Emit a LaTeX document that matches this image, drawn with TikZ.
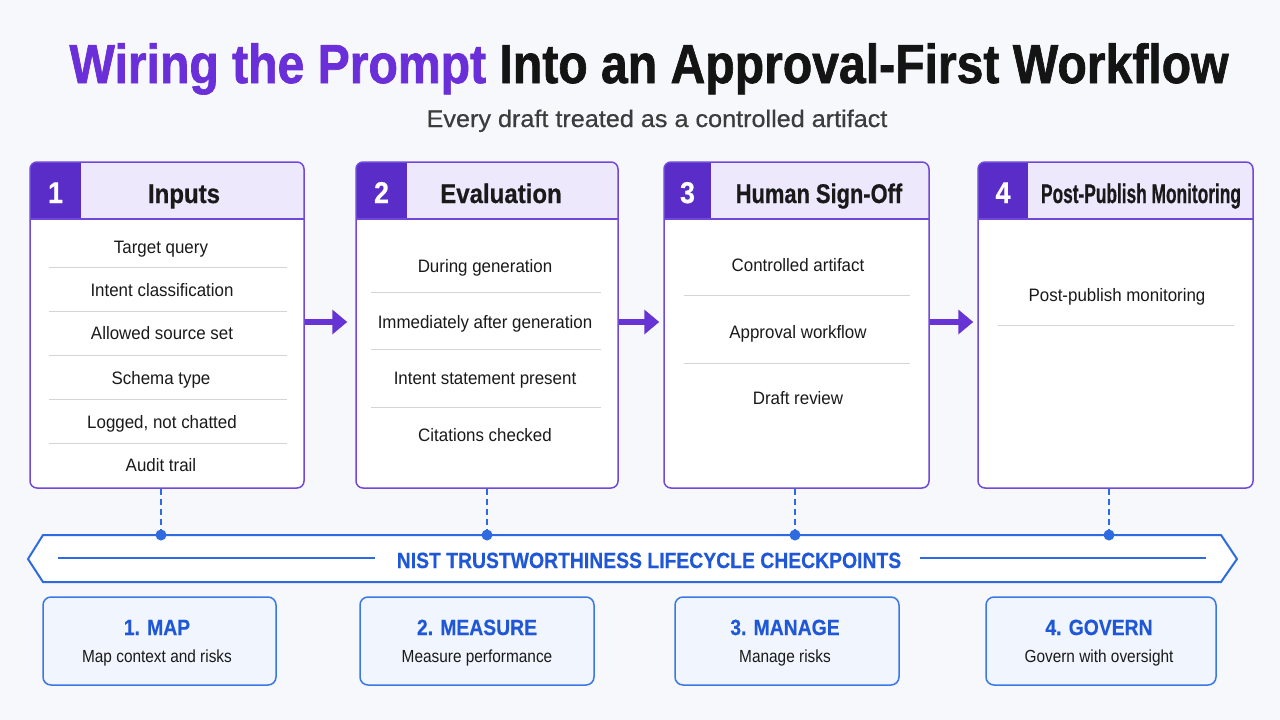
\documentclass[tikz,border=0pt]{standalone}
\usepackage{fontspec}
\setmainfont{Liberation Sans}
\newfontfamily\titlefont[FakeStretch=0.875,FakeBold=1.2]{Liberation Sans}
\newfontfamily\leadfont[FakeStretch=1.05,FakeBold=0.6]{Liberation Sans}
\newfontfamily\hdrfont[FakeStretch=0.89,FakeBold=0.6]{Liberation Sans}
\newfontfamily\bodyfont[FakeStretch=0.94]{Liberation Sans}
\newfontfamily\nistfont[FakeStretch=0.88,FakeBold=0.4]{Liberation Sans}
\newfontfamily\subfont[FakeStretch=0.88]{Liberation Sans}
\usetikzlibrary{arrows.meta,fit}
\definecolor{bg}{HTML}{F7F8FB}
\definecolor{ttlpurple}{HTML}{6A2FD8}
\definecolor{ttlblack}{HTML}{141414}
\definecolor{leadgray}{HTML}{3C3C3C}
\definecolor{cardline}{HTML}{7048DA}
\definecolor{hdrfill}{HTML}{EEE8FD}
\definecolor{numfill}{HTML}{5A2CC8}
\definecolor{txt}{HTML}{1A1A1A}
\definecolor{sepgray}{HTML}{D4D4D8}
\definecolor{arrowpurple}{HTML}{6633D4}
\definecolor{nistblue}{HTML}{1F57D6}
\definecolor{nistline}{HTML}{2F6BE0}
\definecolor{boxfill}{HTML}{F0F5FE}
\definecolor{boxline}{HTML}{3A78E6}
\tikzset{
  cardframe/.style={draw=cardline, line width=1.5pt, rounded corners=7pt, rectangle, inner sep=0pt},
  numtxt/.style={font=\hdrfont\bfseries\fontsize{30}{32}\selectfont, text=white, anchor=base},
  hdrtxt/.style={font=\hdrfont\bfseries\fontsize{27}{30}\selectfont, text=txt, anchor=base},
  item/.style={font=\bodyfont\fontsize{18}{20}\selectfont, text=txt, anchor=base},
  sepline/.style={draw=sepgray, line width=1pt},
  flow/.style={draw=arrowpurple, line width=6pt, -{Triangle[length=15pt,width=24pt]}},
  checkdash/.style={draw=nistline, line width=1.5pt, dash pattern=on 6pt off 4pt},
  dotnode/.style={circle, fill=nistline, minimum size=11pt, inner sep=0pt},
  bannerline/.style={draw=nistline, line width=2pt, line join=miter},
  innerline/.style={draw=nistline, line width=1.3pt},
  nisttxt/.style={font=\nistfont\bfseries\fontsize{22}{24}\selectfont, text=nistblue, anchor=base},
  nistbox/.style={draw=boxline, fill=boxfill, line width=1.5pt, rounded corners=8pt, rectangle, inner sep=0pt},
  boxtitle/.style={font=\nistfont\bfseries\fontsize{22}{24}\selectfont, text=nistblue, anchor=base},
  boxsub/.style={font=\subfont\fontsize{17.5}{20}\selectfont, text=txt, anchor=base}
}
% #1 id, #2 x1, #3 x2, #4 xn (number box right), #5 number, #6 title x, #7 title
\newcommand\mkcard[7]{%
  \fill[white, rounded corners=7pt] (#2,162) rectangle (#3,488);
  \begin{scope}
    \clip[rounded corners=7pt] (#2,162) rectangle (#3,488);
    \fill[hdrfill] (#2,162) rectangle (#3,219);
    \fill[numfill] (#2,162) rectangle (#4,219);
  \end{scope}
  \draw[draw=cardline, line width=1.5pt] (#2,219) -- (#3,219);
  \node[cardframe, fit={(#2,162) (#3,488)}] (#1) {};
  \node[numtxt] (#1num) at ({(#2+#4)/2},203) {#5};
  \node[hdrtxt] (#1ttl) at (#6,203) {#7};
}
\begin{document}
\begin{tikzpicture}[x=1pt,y=-1pt]
\useasboundingbox (0,0) rectangle (1280,720);
\fill[bg] (0,0) rectangle (1280,720);

% title
\node[anchor=base, font=\titlefont\bfseries\fontsize{55}{60}\selectfont, text=ttlblack] (title) at (649,83)
  {{\color{ttlpurple}Wiring the Prompt} Into an Approval-First Workflow};
\node[anchor=base, font=\leadfont\fontsize{24}{28}\selectfont, text=leadgray] (lead) at (657,127)
  {Every draft treated as a controlled artifact};

% cards
\mkcard{c1}{30}{304}{81}{1}{184}{Inputs}
\mkcard{c2}{356}{618}{407}{2}{501}{Evaluation}
\mkcard{c3}{664}{929}{711}{3}{819}{\scalebox{0.91}[1]{Human Sign-Off}}
\mkcard{c4}{978}{1253}{1028}{4}{1141}{\scalebox{0.72}[1]{Post-Publish Monitoring}}

% card 1 items
\node[item] (i11) at (161,253) {Target query};
\node[item] (i12) at (162,296.5) {Intent classification};
\node[item] (i13) at (162,339.5) {Allowed source set};
\node[item] (i14) at (161,384.5) {Schema type};
\node[item] (i15) at (162,428.5) {Logged, not chatted};
\node[item] (i16) at (161,471.5) {Audit trail};
\foreach \y in {267,311,355,399,443} \draw[sepline] (49,\y) -- (287,\y);

% card 2 items
\node[item] (i21) at (485,272.5) {During generation};
\node[item] (i22) at (485,328.5) {Immediately after generation};
\node[item] (i23) at (485,384.5) {Intent statement present};
\node[item] (i24) at (485,441.5) {Citations checked};
\foreach \y in {292,349,407} \draw[sepline] (371,\y) -- (601,\y);

% card 3 items
\node[item] (i31) at (798,271.5) {Controlled artifact};
\node[item] (i32) at (798,338.5) {Approval workflow};
\node[item] (i33) at (798,404.5) {Draft review};
\foreach \y in {295,363} \draw[sepline] (684,\y) -- (910,\y);

% card 4 items
\node[item] (i41) at (1117,301.5) {Post-publish monitoring};
\draw[sepline] (998,325) -- (1234,325);

% flow arrows
\coordinate (ylev) at (0,322);
\draw[flow, shorten >=8pt] (c1.east |- ylev) -- (c2.west |- ylev);
\draw[flow, shorten >=4pt] (c2.east |- ylev) -- (c3.west |- ylev);
\draw[flow, shorten >=4pt] (c3.east |- ylev) -- (c4.west |- ylev);

% banner
\draw[bannerline, fill=white] (28,559) -- (43,535) -- (1221,535) -- (1237,559) -- (1221,582) -- (43,582) -- cycle;
\node[nisttxt] (nist) at (649,568) {NIST TRUSTWORTHINESS LIFECYCLE CHECKPOINTS};
\draw[innerline] (58,558) -- (375,558);
\draw[innerline] (920,558) -- (1206,558);

% checkpoint dots and dashed links
\node[dotnode] (d1) at (161,535) {};
\node[dotnode] (d2) at (487,535) {};
\node[dotnode] (d3) at (795,535) {};
\node[dotnode] (d4) at (1109,535) {};
\draw[checkdash] (c1.south -| d1) -- (d1);
\draw[checkdash] (c2.south -| d2) -- (d2);
\draw[checkdash] (c3.south -| d3) -- (d3);
\draw[checkdash] (c4.south -| d4) -- (d4);

% bottom boxes
\node[nistbox, fit={(43,597) (276,685)}] (b1) {};
\node[nistbox, fit={(360,597) (594,685)}] (b2) {};
\node[nistbox, fit={(675,597) (899,685)}] (b3) {};
\node[nistbox, fit={(986,597) (1216,685)}] (b4) {};
\node[boxtitle] (b1t) at (157,635) {1. MAP};
\node[boxsub] (b1s) at (157,662) {Map context and risks};
\node[boxtitle] (b2t) at (477,635) {2. MEASURE};
\node[boxsub] (b2s) at (477,662) {Measure performance};
\node[boxtitle] (b3t) at (785,635) {3. MANAGE};
\node[boxsub] (b3s) at (785,662) {Manage risks};
\node[boxtitle] (b4t) at (1099,635) {4. GOVERN};
\node[boxsub] (b4s) at (1099,662) {Govern with oversight};
\end{tikzpicture}
\end{document}
